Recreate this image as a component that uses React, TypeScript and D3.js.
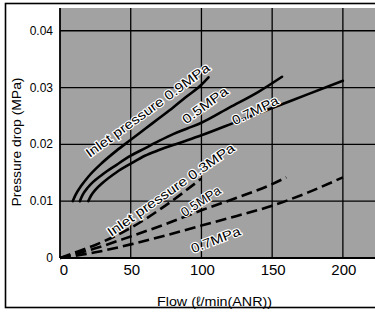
import React from "react";
import * as d3 from "d3";

// ---- data ----
const flowTicks = [0, 50, 100, 150, 200];
const flowTickLabels = ["0", "50", "100", "150", "200"];
const dropTicks = [0, 0.01, 0.02, 0.03, 0.04];
const dropTickLabels = ["0", "0.01", "0.02", "0.03", "0.04"];

// solid curves (flow, pressure drop)
const solid09: [number, number][] = [
  [9, 0.01], [11, 0.0111], [15, 0.0127], [20, 0.0143], [30, 0.0168], [40, 0.0189], [50, 0.0208],
  [60, 0.0227], [70, 0.0246], [80, 0.0265], [90, 0.0285], [100, 0.0305], [105, 0.0318],
];
const solid05: [number, number][] = [
  [14, 0.01], [16, 0.0111], [20, 0.0125], [30, 0.0147], [40, 0.0164], [50, 0.018], [60, 0.0193],
  [70, 0.0206], [80, 0.0218], [90, 0.0228], [100, 0.0238], [120, 0.0265], [140, 0.0292], [157, 0.0319],
];
const solid07: [number, number][] = [
  [20, 0.01], [22, 0.011], [25, 0.012], [30, 0.0132], [40, 0.0151], [50, 0.0166], [60, 0.018],
  [70, 0.019], [85, 0.0203], [100, 0.0216], [125, 0.024], [150, 0.0264], [175, 0.0288], [200, 0.0312],
];
// dashed curves
const dashed03: [number, number][] = [
  [0, 0], [10, 0.0009], [25, 0.0023], [50, 0.0053], [75, 0.0093], [100, 0.014],
];
const dashed05: [number, number][] = [
  [0, 0], [25, 0.0017], [50, 0.0038], [75, 0.006], [100, 0.0084], [125, 0.0106], [150, 0.013], [160, 0.0142],
];
const dashed07: [number, number][] = [
  [0, 0], [25, 0.001], [50, 0.0024], [75, 0.004], [100, 0.0057], [125, 0.0074], [150, 0.0092], [175, 0.0115], [200, 0.0142],
];

const curveLabels = [
  { text: "Inlet pressure 0.9MPa", flow: 62, drop: 0.026, angle: -36, len: 150 },
  { text: "0.5MPa", flow: 102.5, drop: 0.0269, angle: -36, len: 53 },
  { text: "0.7MPa", flow: 138, drop: 0.026, angle: -26, len: 50 },
  { text: "Inlet pressure 0.3MPa", flow: 78.4, drop: 0.012, angle: -35, len: 152 },
  { text: "0.5MPa", flow: 99.6, drop: 0.01, angle: -33, len: 45 },
  { text: "0.7MPa", flow: 110, drop: 0.0032, angle: -21, len: 52 },
];

const W = 375;
const H = 312;
const FONT = "'Liberation Sans', Arial, Helvetica, sans-serif";

export default function App() {
  const x = d3.scaleLinear().domain([0, 222]).range([60, 374]);
  const y = d3.scaleLinear().domain([0, 0.044]).range([258, 8]);
  const line = d3
    .line<[number, number]>()
    .x((d) => x(d[0]))
    .y((d) => y(d[1]))
    .curve(d3.curveMonotoneX);

  const solids = [solid09, solid05, solid07];
  const dashes = [dashed03, dashed05, dashed07];

  return (
    <svg
      width={W}
      height={H}
      viewBox={`0 0 ${W} ${H}`}
      style={{ position: "absolute", left: 0, top: 0, background: "#fff" }}
    >
      <rect x={0} y={0} width={W} height={H} fill="#fff" />
      {/* outer frame */}
      <rect x={5.5} y={3.5} width={W + 10} height={304} fill="none" stroke="#000" strokeWidth={1.6} />
      {/* plot background */}
      <rect x={x(0)} y={y(0.044)} width={W - x(0)} height={y(0) - y(0.044)} fill="#a2a2a2" />
      {/* grid */}
      {flowTicks.slice(1).map((f) => (
        <line key={"gx" + f} x1={x(f)} x2={x(f)} y1={y(0.044)} y2={y(0)} stroke="#000" strokeWidth={1.3} />
      ))}
      {dropTicks.slice(1).map((v) => (
        <line key={"gy" + v} x1={x(0)} x2={W} y1={y(v)} y2={y(v)} stroke="#000" strokeWidth={1.3} />
      ))}
      {/* axes */}
      <line x1={x(0)} x2={x(0)} y1={y(0.044)} y2={y(0)} stroke="#000" strokeWidth={1.8} />
      <line x1={x(0)} x2={W} y1={y(0)} y2={y(0)} stroke="#000" strokeWidth={2.2} />

      {/* curves */}
      {solids.map((s, i) => (
        <path key={"s" + i} d={line(s) || ""} fill="none" stroke="#000" strokeWidth={2.6} strokeLinecap="round" />
      ))}
      {dashes.map((s, i) => (
        <path key={"d" + i} d={line(s) || ""} fill="none" stroke="#000" strokeWidth={2.6} strokeDasharray="11 5" />
      ))}

      {/* curve labels */}
      {curveLabels.map((l, i) => (
        <text
          key={"l" + i}
          transform={`translate(${x(l.flow)},${y(l.drop)}) rotate(${l.angle})`}
          textAnchor="middle"
          dominantBaseline="central"
          fontFamily={FONT}
          fontSize={13}
          textLength={l.len}
          lengthAdjust="spacingAndGlyphs"
          fill="#000"
          stroke="#fff"
          strokeWidth={2.2}
          paintOrder="stroke"
        >
          {l.text}
        </text>
      ))}

      {/* y tick labels */}
      {dropTicks.map((v, i) => (
        <text key={"yt" + v} x={53} y={y(v) + 4} textAnchor="end" fontFamily={FONT} fontSize={12} fill="#000">
          {dropTickLabels[i]}
        </text>
      ))}
      {/* x tick labels */}
      {flowTicks.map((f, i) => (
        <text key={"xt" + f} x={x(f) + (f === 0 ? 4 : 1)} y={275} textAnchor="middle" fontFamily={FONT} fontSize={15} fill="#000">
          {flowTickLabels[i]}
        </text>
      ))}
      {/* axis titles */}
      <text x={214.5} y={306} textAnchor="middle" fontFamily={FONT} fontSize={13.5} fill="#000" textLength={115} lengthAdjust="spacingAndGlyphs">
        Flow (ℓ/min(ANR))
      </text>
      <text
        transform="translate(21,142) rotate(-90)"
        textAnchor="middle"
        fontFamily={FONT}
        fontSize={13}
        fill="#000"
        textLength={129}
        lengthAdjust="spacingAndGlyphs"
      >
        Pressure drop (MPa)
      </text>
    </svg>
  );
}
